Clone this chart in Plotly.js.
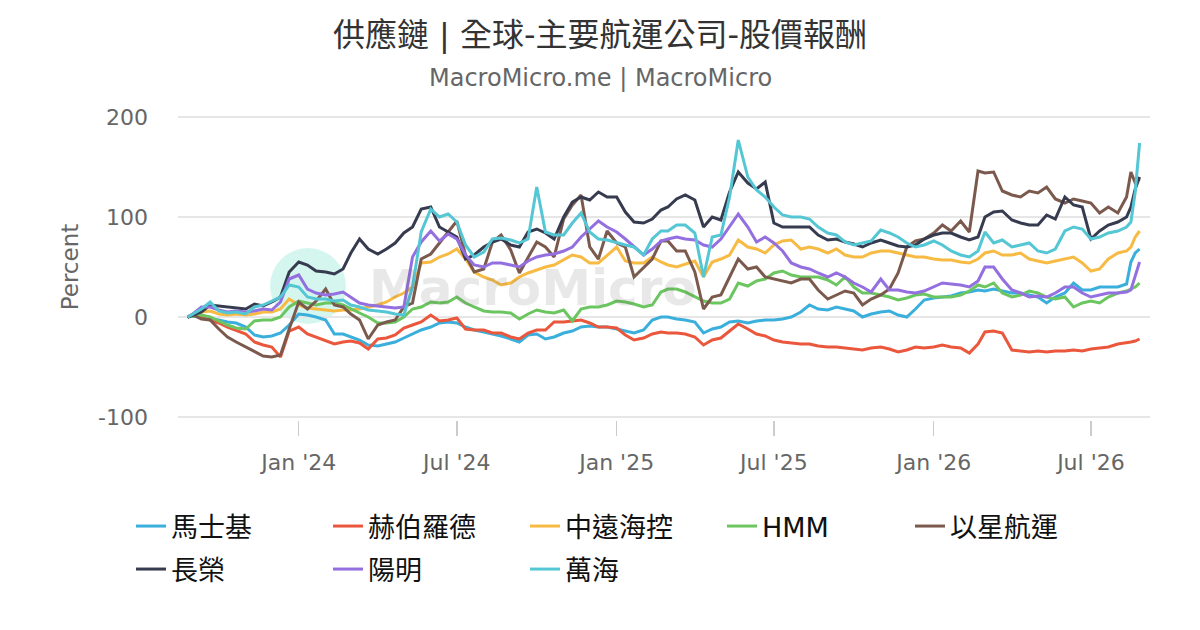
<!DOCTYPE html>
<html>
<head>
<meta charset="utf-8">
<script src="https://cdn.plot.ly/plotly-3.0.1.min.js"></script>
<style>
  html, body { margin: 0; padding: 0; background: #fff; }
  #chart { width: 1200px; height: 630px; }
</style>
</head>
<body>
<div id="chart"></div>
<script>
// sample dates (roughly every 10 days)
const dates = [
  '2023-08-26','2023-09-01','2023-09-11','2023-09-21','2023-10-01','2023-10-11','2023-10-21','2023-11-01','2023-11-11','2023-11-21',
  '2023-12-01','2023-12-11','2023-12-21','2024-01-01','2024-01-11','2024-01-21','2024-02-01','2024-02-11','2024-02-21','2024-03-01',
  '2024-03-11','2024-03-21','2024-04-01','2024-04-11','2024-04-21','2024-05-01','2024-05-11','2024-05-21','2024-06-01','2024-06-11',
  '2024-06-21','2024-07-01','2024-07-11','2024-07-21','2024-08-01','2024-08-11','2024-08-21','2024-09-01','2024-09-11','2024-09-21',
  '2024-10-01','2024-10-11','2024-10-21','2024-11-01','2024-11-11','2024-11-21','2024-12-01','2024-12-11','2024-12-21','2025-01-01',
  '2025-01-11','2025-01-21','2025-02-01','2025-02-11','2025-02-21','2025-03-01','2025-03-11','2025-03-21','2025-04-01','2025-04-11',
  '2025-04-21','2025-05-01','2025-05-11','2025-05-21','2025-06-01','2025-06-11','2025-06-21','2025-07-01','2025-07-11','2025-07-21',
  '2025-08-01','2025-08-11','2025-08-21','2025-09-01','2025-09-11','2025-09-21','2025-10-01','2025-10-11','2025-10-21','2025-11-01',
  '2025-11-11','2025-11-21','2025-12-01','2025-12-11','2025-12-21','2026-01-01','2026-01-11','2026-01-21','2026-02-01','2026-02-11',
  '2026-02-21','2026-03-01','2026-03-11','2026-03-21','2026-04-01','2026-04-11','2026-04-21','2026-05-01','2026-05-11','2026-05-21',
  '2026-06-01','2026-06-11','2026-06-21','2026-07-01','2026-07-11','2026-07-21','2026-08-01','2026-08-11','2026-08-16','2026-08-21',
  '2026-08-26'
];

// percent return per company
const maersk = [
  0,1,0,-2,-3,-5,-6,-10,-18,-20,
  -19,-16,-8,3,2,0,-3,-17,-17,-20,
  -23,-28,-29,-27,-25,-21,-17,-13,-10,-6,
  -5,-6,-10,-13,-15,-17,-19,-22,-25,-18,
  -17,-22,-20,-16,-14,-10,-9,-10,-10,-12,
  -14,-16,-13,-3,0,0,-2,-3,-5,-16,
  -12,-10,-5,-4,-6,-4,-3,-3,-2,0,
  5,12,8,7,10,8,6,0,3,5,
  6,2,0,8,17,19,20,21,24,25,
  27,26,28,26,24,24,22,20,14,20,
  24,34,27,27,30,30,30,33,55,64,
  68
];
const hapag = [
  0,2,0,-3,-6,-10,-13,-17,-25,-28,
  -30,-40,-14,-10,-17,-20,-24,-27,-25,-24,
  -26,-32,-22,-21,-18,-11,-8,-5,2,-4,
  -3,-1,-12,-13,-13,-16,-16,-20,-22,-16,
  -13,-13,-5,-5,-4,-3,-6,-10,-10,-11,
  -18,-23,-21,-17,-15,-16,-16,-17,-20,-28,
  -23,-21,-14,-7,-12,-17,-19,-23,-25,-26,
  -27,-27,-29,-30,-30,-31,-32,-33,-31,-30,
  -32,-35,-33,-30,-31,-30,-28,-30,-31,-36,
  -27,-15,-14,-16,-33,-34,-35,-34,-35,-34,
  -34,-33,-34,-32,-31,-30,-27,-26,-25,-24,
  -22
];
const cosco = [
  0,3,5,6,3,2,3,2,3,5,
  5,8,18,12,9,8,7,6,7,7,
  8,10,12,15,20,24,30,54,55,60,
  63,68,58,45,40,37,32,34,40,44,
  47,50,52,57,62,60,54,54,62,70,
  56,54,54,60,55,52,50,53,56,40,
  55,58,62,77,70,68,64,72,76,77,
  68,70,68,64,68,62,60,60,64,66,
  66,64,62,60,60,58,57,57,55,54,
  58,64,66,62,62,64,58,56,54,56,
  58,60,54,46,48,58,64,66,70,80,
  86
];
const hmm = [
  0,1,2,0,-4,-8,-11,-12,-4,-3,
  -3,0,10,16,14,12,14,14,12,8,
  4,0,-6,-6,-5,0,8,10,15,14,
  15,20,14,10,6,5,5,4,-2,3,
  7,5,4,7,-4,8,10,10,12,16,
  15,13,10,12,25,28,28,25,20,16,
  14,14,18,34,31,36,38,44,46,42,
  40,40,40,37,32,40,30,24,24,22,
  20,17,19,22,23,20,20,20,22,26,
  32,30,34,24,20,22,26,24,20,18,
  20,10,14,16,14,20,24,26,28,30,
  34
];
const zim = [
  0,2,-2,-3,-12,-20,-25,-30,-35,-39,
  -40,-38,-12,15,8,16,28,12,10,3,
  -3,-22,-8,-5,-3,10,14,58,63,74,
  85,96,62,45,48,75,82,67,44,60,
  75,70,60,98,112,122,70,58,86,74,
  70,40,50,58,76,76,66,66,45,8,
  20,22,40,58,48,50,40,38,36,34,
  38,38,27,18,22,26,24,12,18,22,
  28,44,70,76,78,84,92,86,96,85,
  146,144,145,126,122,120,126,124,130,118,
  114,118,116,114,104,110,104,120,145,134,
  138
];
const evergreen = [
  0,2,5,12,11,10,9,8,13,11,
  15,20,45,55,52,46,45,43,48,64,
  78,68,63,68,74,84,90,108,110,90,
  85,80,58,62,70,75,78,72,70,85,
  88,84,78,100,115,120,117,125,120,120,
  105,95,94,98,107,110,118,122,117,90,
  100,97,125,145,134,128,135,94,90,90,
  90,90,82,77,78,75,73,70,74,77,
  74,71,70,72,78,82,84,84,80,77,
  80,100,105,106,97,94,92,92,102,98,
  120,112,110,78,86,92,95,100,110,128,
  140
];
const yangming = [
  0,3,10,10,7,5,6,5,6,8,
  7,15,38,42,28,24,22,23,25,20,
  14,12,11,10,9,10,60,75,86,76,
  83,78,62,52,50,54,54,52,50,56,
  60,62,63,66,70,80,88,96,90,85,
  78,70,62,68,76,78,80,78,77,72,
  70,78,90,103,90,75,80,74,66,54,
  50,48,44,40,44,40,34,30,25,38,
  27,27,25,24,26,30,34,33,32,30,
  36,50,50,38,27,24,20,21,20,24,
  30,30,24,20,22,24,24,25,27,40,
  55
];
const wanhai = [
  0,3,8,15,6,4,5,3,10,12,
  16,20,32,30,20,18,18,16,17,12,
  10,7,6,5,3,2,30,85,108,100,
  103,95,72,60,65,78,79,77,74,78,
  130,85,82,82,94,104,85,78,77,74,
  72,70,62,78,86,86,92,92,84,40,
  80,82,120,177,140,127,120,110,102,100,
  100,98,90,84,82,75,72,74,76,87,
  84,80,74,70,72,76,72,66,62,60,
  66,85,74,77,70,72,74,66,64,68,
  86,90,88,78,80,84,86,90,95,125,
  174
];

const names = ['馬士基', '赫伯羅德', '中遠海控', 'HMM', '以星航運', '長榮', '陽明', '萬海'];
const series = [maersk, hapag, cosco, hmm, zim, evergreen, yangming, wanhai];
const colors = ['#3aafdc', '#ea573c', '#f7ba43', '#6cc660', '#7b5a4d', '#373b4f', '#946fdf', '#54c6d4'];
// which legend box each name sits in (top row split in two so it does not wrap)
const legendOf = ['legend', 'legend', 'legend', 'legend', 'legend3', 'legend2', 'legend2', 'legend2'];

const font = 'DejaVu Sans, "Noto Sans CJK TC", sans-serif';

const data = series.map((ys, i) => ({
  x: dates,
  y: ys,
  name: names[i],
  type: 'scatter',
  mode: 'lines',
  line: { color: colors[i], width: 3 },
  legend: legendOf[i]
}));

const legendBase = {
  orientation: 'h',
  xref: 'container', yref: 'container',
  x: 131 / 1200, xanchor: 'left',
  yanchor: 'top',
  entrywidth: 152,
  entrywidthmode: 'pixels',
  bgcolor: 'rgba(0,0,0,0)',
  font: { family: font, size: 27, color: '#111' },
  traceorder: 'normal'
};

const layout = {
  width: 1200,
  height: 630,
  margin: { l: 178, r: 50, t: 114, b: 210 },
  paper_bgcolor: '#fff',
  plot_bgcolor: '#fff',
  font: { family: font, color: '#666' },
  title: {
    text: '供應鏈 | 全球-主要航運公司-股價報酬',
    x: 0.5, xanchor: 'center',
    y: 1 - 35 / 630, yanchor: 'middle',
    font: { family: font, size: 32, color: '#333' }
  },
  annotations: [
    {
      text: 'MacroMicro.me | MacroMicro',
      xref: 'paper', yref: 'paper',
      x: (600 - 178) / 972, y: 1.1176, xanchor: 'center', yanchor: 'middle',
      showarrow: false,
      font: { family: font, size: 24, color: '#666' }
    },
    {
      // watermark
      text: '<b>MacroMicro</b>',
      xref: 'paper', yref: 'paper',
      x: (367 - 178) / 972, y: 0.431, xanchor: 'left', yanchor: 'middle',
      showarrow: false,
      font: { family: font, size: 50, color: 'rgba(100,100,100,0.15)' }
    }
  ],
  shapes: [
    {
      type: 'circle', xref: 'paper', yref: 'paper', layer: 'below',
      x0: 0.0947, x1: 0.1728, y0: 0.3137, y1: 0.562,
      fillcolor: '#d5f6ef', line: { width: 0 }
    }
  ],
  xaxis: {
    type: 'date',
    range: ['2023-08-15', '2026-09-07'],
    tick0: '2024-01-01',
    dtick: 'M6',
    tickformat: "%b '%y",
    ticks: 'outside',
    ticklen: 15,
    tickwidth: 1.5,
    tickcolor: '#ccc',
    ticklabelstandoff: 8,
    showgrid: false,
    zeroline: false,
    showline: false,
    tickfont: { family: font, size: 22, color: '#666' }
  },
  yaxis: {
    range: [-103, 203],
    tickvals: [-100, 0, 100, 200],
    ticktext: ['-100', '0', '100', '200'],
    showgrid: true,
    gridcolor: '#e6e6e6',
    gridwidth: 1.5,
    zeroline: false,
    showline: false,
    ticks: '',
    ticklabelstandoff: 29,
    tickfont: { family: font, size: 22, color: '#666' },
    title: {
      text: 'Percent',
      standoff: 13,
      font: { family: font, size: 23, color: '#666' }
    }
  },
  showlegend: true,
  legend: Object.assign({}, legendBase, { y: 1 - 502 / 630 }),
  legend3: Object.assign({}, legendBase, { x: 910 / 1200, y: 1 - 502 / 630 }),
  legend2: Object.assign({}, legendBase, { y: 1 - 545 / 630 })
};

Plotly.newPlot('chart', data, layout, { displayModeBar: false, staticPlot: true });
</script>
</body>
</html>
